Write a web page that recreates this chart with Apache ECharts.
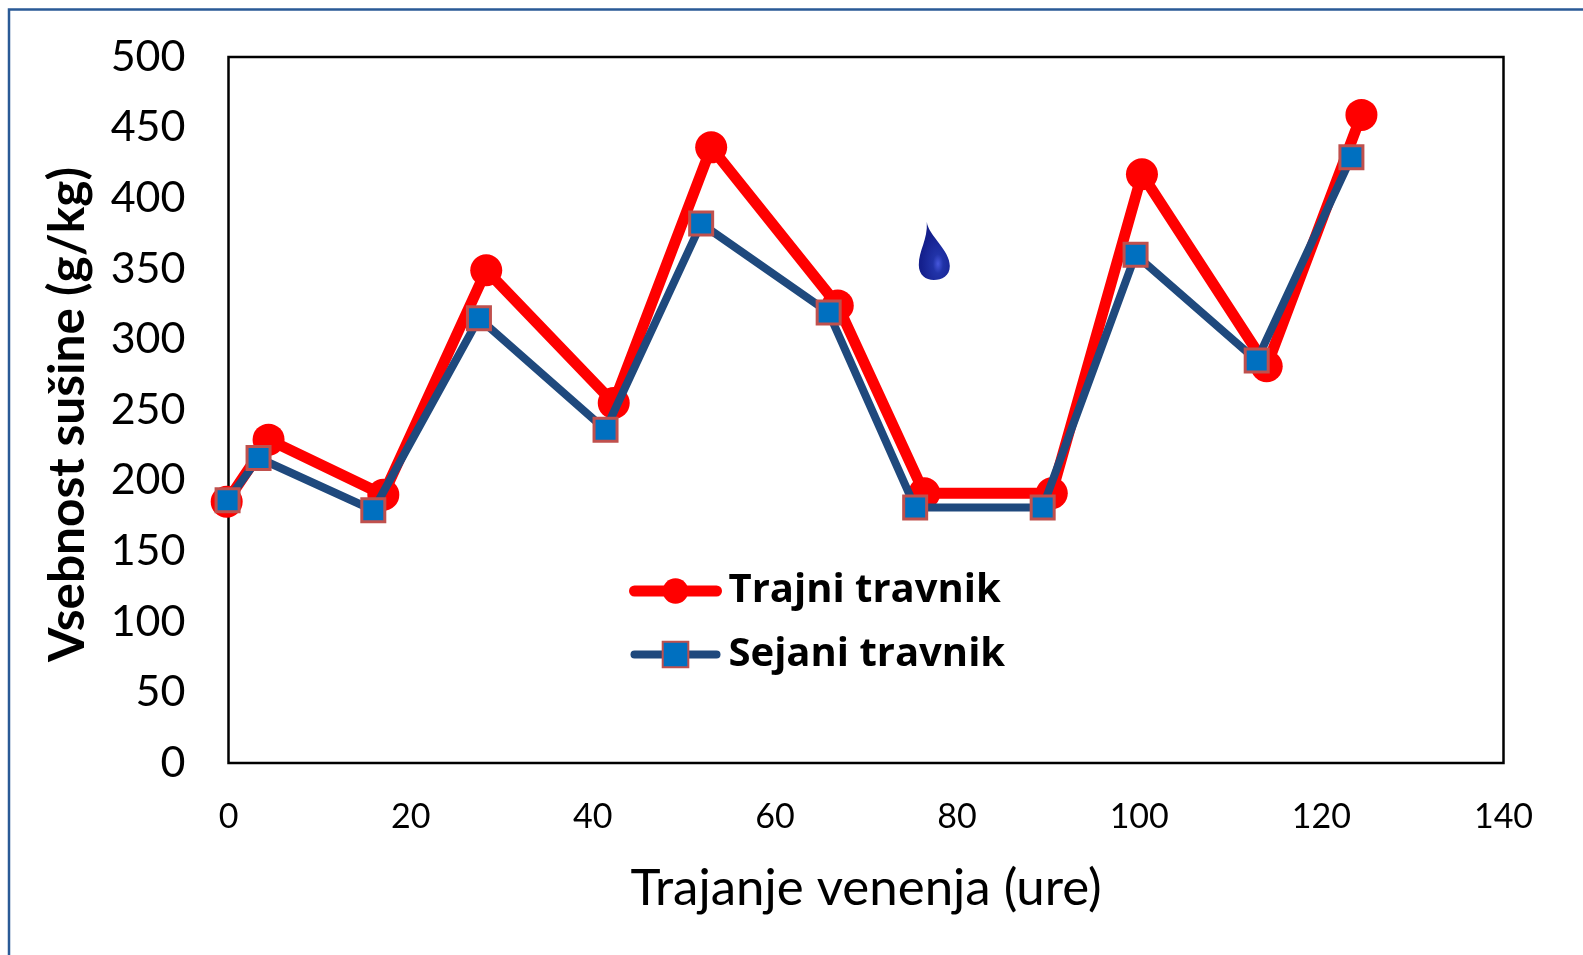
<!DOCTYPE html>
<html>
<head>
<meta charset="utf-8">
<title>Vsebnost sušine</title>
<script src="https://cdn.jsdelivr.net/npm/echarts@6/dist/echarts.min.js"></script>
<style>
html, body { margin: 0; padding: 0; background: #fff; }
#chart { width: 1583px; height: 955px; }
</style>
</head>
<body>
<div id="chart"></div>
<script>
// ure venenja, vsebnost susine (g/kg)
const trajniUre = [-0.2, 4.4, 17, 28.3, 42.3, 53, 66.9, 76.4, 90.4, 100.3, 114, 124.4]
const trajniVrednosti = [185, 229, 190, 349, 255, 436, 324, 191, 191, 417, 281, 459]
const sejaniUre = [-0.1, 3.3, 15.9, 27.5, 41.4, 51.9, 65.9, 75.4, 89.4, 99.6, 112.9, 123.3]
const sejaniVrednosti = [186, 216, 179, 315, 236, 382, 319, 181, 181, 360, 285, 429]
const kapljica = [[77.5, 362.6]]

const pari = (xs, ys) => xs.map((x, i) => [x, ys[i]])
const pisava = 'Lato, "Open Sans", sans-serif'

const chart = echarts.init(document.getElementById('chart'))

chart.setOption({
  animation: false,
  backgroundColor: '#fff',
  grid: { left: 228.5, top: 57, width: 1275, height: 706, show: true, borderColor: '#000', borderWidth: 2.5, backgroundColor: 'transparent' },
  xAxis: {
    type: 'value',
    min: 0,
    max: 140,
    interval: 20,
    name: 'Trajanje venenja (ure)',
    nameLocation: 'middle',
    nameGap: 100,
    nameTextStyle: { fontFamily: pisava, fontSize: 51, color: '#000' },
    axisLine: { show: false },
    axisTick: { show: false },
    splitLine: { show: false },
    axisLabel: { fontFamily: pisava, fontSize: 34, color: '#000', margin: 37 },
  },
  yAxis: {
    type: 'value',
    min: 0,
    max: 500,
    interval: 50,
    name: 'Vsebnost sušine (g/kg)',
    nameLocation: 'middle',
    nameGap: 135,
    nameTextStyle: { fontFamily: pisava, fontSize: 49.5, fontWeight: 'bold', color: '#000', padding: [0, 9, 0, 0] },
    axisLine: { show: false },
    axisTick: { show: false },
    splitLine: { show: false },
    axisLabel: { fontFamily: pisava, fontSize: 43, color: '#000', margin: 43 },
  },
  legend: {
    orient: 'vertical',
    left: 624,
    top: 566,
    itemWidth: 82,
    itemHeight: 32,
    itemGap: 23.5,
    textStyle: { fontFamily: '"Open Sans", Lato, sans-serif', fontSize: 40, fontWeight: 'bold', color: '#000', padding: [0, 0, 0, 7] },
    data: [
      { name: 'Trajni travnik', lineStyle: { width: 11, cap: 'round' } },
      { name: 'Sejani travnik', lineStyle: { width: 8, cap: 'round' } },
    ],
  },
  series: [
    {
      name: 'Trajni travnik',
      type: 'line',
      clip: false,
      data: pari(trajniUre, trajniVrednosti),
      symbol: 'circle',
      symbolSize: 32,
      lineStyle: { color: '#ff0000', width: 11 },
      itemStyle: { color: '#ff0000' },
      z: 2,
    },
    {
      name: 'Sejani travnik',
      type: 'line',
      clip: false,
      data: pari(sejaniUre, sejaniVrednosti),
      symbol: 'rect',
      symbolSize: 23,
      lineStyle: { color: '#1f497d', width: 8 },
      itemStyle: { color: '#0070c0', borderColor: '#c0504d', borderWidth: 3 },
      z: 3,
    },
    {
      // kapljica
      name: 'kapljica',
      type: 'scatter',
      data: kapljica,
      symbol: 'path://M8 0 C10 14 31 28 31 44 C31 54 23 58 15 58 C7 58 0 53 0 43 C0 28 9 18 8 0 Z',
      symbolSize: [31, 58],
      itemStyle: {
        opacity: 1,
        color: {
          type: 'radial',
          x: 0.62,
          y: 0.72,
          r: 0.55,
          colorStops: [
            { offset: 0, color: '#4657dc' },
            { offset: 0.3, color: '#2133a8' },
            { offset: 1, color: '#141f8c' },
          ],
        },
      },
      silent: true,
    },
  ],
  graphic: [
    // okvir slike
    {
      type: 'rect',
      shape: { x: 9, y: 9.5, width: 1600, height: 1000 },
      style: { fill: 'none', stroke: '#2a5a96', lineWidth: 2.5 },
      silent: true,
    },
  ],
})
</script>
</body>
</html>
